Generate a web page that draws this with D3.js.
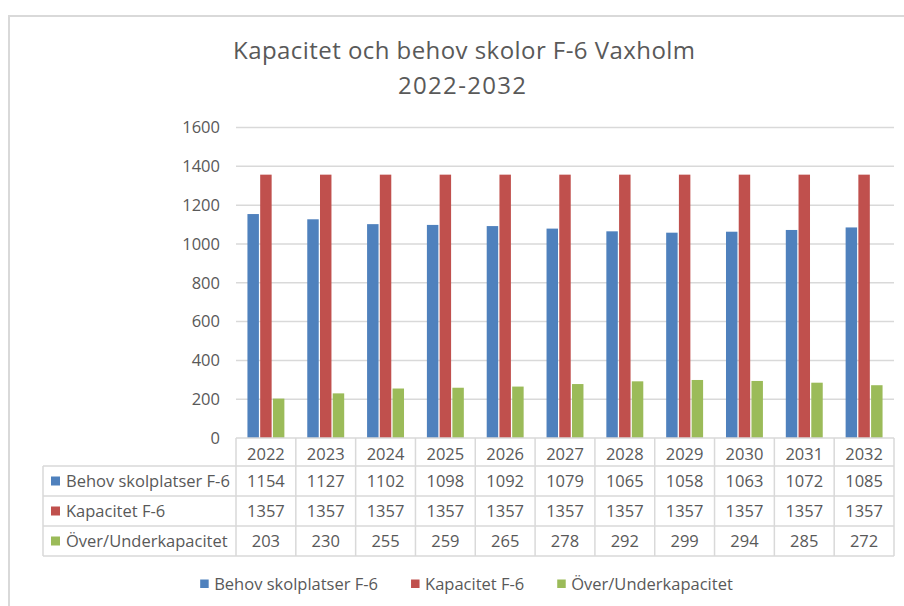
<!DOCTYPE html>
<html>
<head>
<meta charset="utf-8">
<script src="https://cdn.jsdelivr.net/npm/d3@7"></script>
<style>
  html, body { margin: 0; padding: 0; background: #fff; }
  svg text { font-family: "Open Sans", "Liberation Sans", sans-serif; fill: #595959; }
</style>
</head>
<body>
<div id="chart"></div>
<script>
// Data
const years = ['2022', '2023', '2024', '2025', '2026', '2027', '2028', '2029', '2030', '2031', '2032']
const seriesNames = ['Behov skolplatser F-6', 'Kapacitet F-6', 'Över/Underkapacitet']
const behov = [1154, 1127, 1102, 1098, 1092, 1079, 1065, 1058, 1063, 1072, 1085]
const kapacitet = [1357, 1357, 1357, 1357, 1357, 1357, 1357, 1357, 1357, 1357, 1357]
const overUnder = [203, 230, 255, 259, 265, 278, 292, 299, 294, 285, 272]
const yTicks = [0, 200, 400, 600, 800, 1000, 1200, 1400, 1600]
const titleLines = ['Kapacitet och behov skolor F-6 Vaxholm', '2022-2032']

const colors = ['#4F81BD', '#C0504D', '#9BBB59']
const seriesValues = [behov, kapacitet, overUnder]

const width = 904
const height = 606
const plot = { left: 236, right: 894, top: 127.5, bottom: 438 }
const gridColor = '#d9d9d9'
const fontSize = 16.5

const svg = d3.select('#chart')
  .append('svg')
  .attr('width', width)
  .attr('height', height)

// Outer chart frame (only top + left edges are visible in the crop)
svg.append('line')
  .attr('x1', 8).attr('x2', width).attr('y1', 16).attr('y2', 16)
  .attr('stroke', gridColor).attr('stroke-width', 2)
svg.append('line')
  .attr('x1', 9).attr('x2', 9).attr('y1', 15).attr('y2', height)
  .attr('stroke', gridColor).attr('stroke-width', 2)

// Title
svg.append('text')
  .attr('x', 464).attr('y', 58.5)
  .attr('text-anchor', 'middle')
  .attr('font-size', 24)
  .attr('textLength', 462).attr('lengthAdjust', 'spacing')
  .text(titleLines[0])
svg.append('text')
  .attr('x', 462).attr('y', 93.5)
  .attr('text-anchor', 'middle')
  .attr('font-size', 24)
  .attr('textLength', 128).attr('lengthAdjust', 'spacing')
  .text(titleLines[1])

// Scales
const y = d3.scaleLinear().domain([0, 1600]).range([plot.bottom, plot.top])
const x0 = d3.scaleBand().domain(years).range([plot.left, plot.right]).padding(0)
const bw = x0.bandwidth()
const x1 = d3.scaleBand().domain(d3.range(3)).range([bw * 0.17, bw * 0.83]).padding(0.1)

// Gridlines
svg.append('g')
  .selectAll('line')
  .data(yTicks.filter(d => d > 0))
  .join('line')
  .attr('x1', plot.left).attr('x2', plot.right)
  .attr('y1', d => y(d)).attr('y2', d => y(d))
  .attr('stroke', gridColor).attr('stroke-width', 1.5)

// Y axis labels
const yAxis = svg.append('g')
  .attr('transform', `translate(${plot.left},0)`)
  .call(d3.axisLeft(y).tickValues(yTicks).tickFormat(d3.format('d')).tickSize(0).tickPadding(16))
yAxis.select('.domain').remove()
yAxis.selectAll('text')
  .attr('font-size', fontSize)
  .attr('fill', '#595959')
  .style('font-family', '"Open Sans", "Liberation Sans", sans-serif')

// Bars
const groups = svg.append('g')
  .selectAll('g')
  .data(years)
  .join('g')
  .attr('transform', d => `translate(${x0(d)},0)`)

groups.selectAll('rect')
  .data((d, i) => seriesValues.map((vals, s) => ({ s, v: vals[i] })))
  .join('rect')
  .attr('x', d => x1(d.s))
  .attr('width', x1.bandwidth())
  .attr('y', d => y(d.v))
  .attr('height', d => y(0) - y(d.v))
  .attr('fill', d => colors[d.s])

// Data table
const table = svg.append('g')
const headerTop = plot.bottom
const headerBottom = 466
const rowH = 30
const tableLeft = 43
const tableBottom = headerBottom + rowH * 3

const lineStyle = sel => sel.attr('stroke', gridColor).attr('stroke-width', 1.5).attr('fill', 'none')

// horizontal lines
table.append('line').call(lineStyle)
  .attr('x1', plot.left).attr('x2', plot.right).attr('y1', headerTop).attr('y2', headerTop)
d3.range(4).forEach(r => {
  const yy = headerBottom + r * rowH
  table.append('line').call(lineStyle)
    .attr('x1', tableLeft).attr('x2', plot.right).attr('y1', yy).attr('y2', yy)
})
// vertical lines
table.append('line').call(lineStyle)
  .attr('x1', tableLeft).attr('x2', tableLeft).attr('y1', headerBottom).attr('y2', tableBottom)
years.forEach(yr => {
  table.append('line').call(lineStyle)
    .attr('x1', x0(yr)).attr('x2', x0(yr)).attr('y1', headerTop).attr('y2', tableBottom)
})
table.append('line').call(lineStyle)
  .attr('x1', plot.right).attr('x2', plot.right).attr('y1', headerTop).attr('y2', tableBottom)

// header (years)
table.selectAll('.yr')
  .data(years)
  .join('text')
  .attr('class', 'yr')
  .attr('x', d => x0(d) + bw / 2)
  .attr('y', headerTop + 22)
  .attr('text-anchor', 'middle')
  .attr('font-size', fontSize)
  .text(d => d)

// rows
seriesNames.forEach((name, s) => {
  const rowTop = headerBottom + s * rowH
  table.append('rect')
    .attr('x', 51).attr('y', rowTop + rowH / 2 - 4.5)
    .attr('width', 9).attr('height', 9)
    .attr('fill', colors[s])
  table.append('text')
    .attr('x', 66).attr('y', rowTop + 21)
    .attr('font-size', fontSize)
    .text(name)
  table.selectAll(`.v${s}`)
    .data(seriesValues[s])
    .join('text')
    .attr('class', `v${s}`)
    .attr('x', (d, i) => x0(years[i]) + bw / 2)
    .attr('y', rowTop + 21)
    .attr('text-anchor', 'middle')
    .attr('font-size', fontSize)
    .text(d => d)
})

// Bottom legend
const legend = svg.append('g')
const items = legend.selectAll('g')
  .data(seriesNames)
  .join('g')
items.append('rect')
  .attr('y', 579.5).attr('width', 8.5).attr('height', 8.5)
  .attr('fill', (d, i) => colors[i])
items.append('text')
  .attr('x', 14).attr('y', 590)
  .attr('font-size', fontSize)
  .text(d => d)

const widths = []
items.each(function () {
  const w = 14 + d3.select(this).select('text').node().getComputedTextLength()
  widths.push(w)
})
const gap = 33
const total = d3.sum(widths) + gap * (widths.length - 1)
let offset = 466.5 - total / 2
items.attr('transform', (d, i) => {
  const t = `translate(${offset},0)`
  offset += widths[i] + gap
  return t
})
</script>
</body>
</html>
